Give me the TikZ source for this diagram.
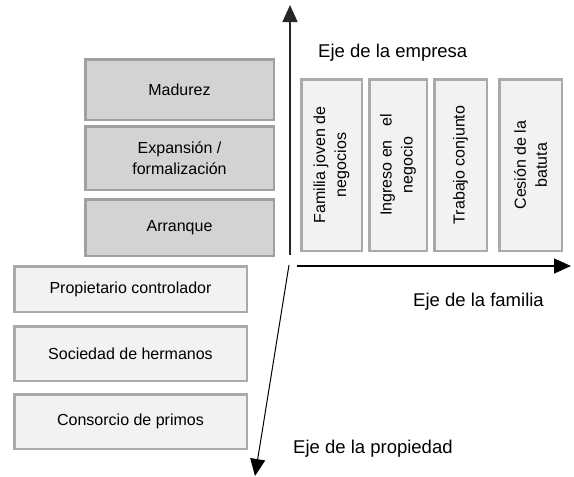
\documentclass[tikz,border=0pt]{standalone}
\usepackage{fontspec}
\setmainfont{Liberation Sans}
\usetikzlibrary{arrows.meta}
\definecolor{darkfill}{RGB}{212,210,210}
\definecolor{darkline}{RGB}{160,160,160}
\definecolor{lightfill}{RGB}{242,242,242}
\definecolor{lightline}{RGB}{170,170,170}
\tikzset{
  darkbox/.style={draw=darkline, fill=darkfill, line width=2.5pt, align=center, inner sep=0pt,
    font=\fontsize{16}{21}\selectfont},
  lightbox/.style={draw=lightline, fill=lightfill, line width=2.5pt, align=center, inner sep=0pt,
    font=\fontsize{16}{21}\selectfont},
  axislabel/.style={anchor=base west, inner sep=0pt, font=\fontsize{18.5}{22}\selectfont},
  axis/.style={line width=1.5pt, -{Triangle[width=15pt,length=17pt]}}
}
\begin{document}
\begin{tikzpicture}[x=1pt,y=-1pt]
\useasboundingbox (0,0) rectangle (574,477);
% left stage boxes (company)
\node[darkbox, minimum width=188.5, minimum height=60.5] (mad) at (179.5,89.5) {Madurez};
\node[darkbox, minimum width=188.5, minimum height=63.5] (exp) at (179.5,158) {Expansión /\\formalización};
\node[darkbox, minimum width=188.5, minimum height=56.5] (arr) at (179.5,227.5) {Arranque};
% ownership boxes
\node[lightbox, minimum width=232.5, minimum height=45.5] (pro) at (130.5,289) {Propietario controlador};
\node[lightbox, minimum width=232.5, minimum height=54.5] (soc) at (130.5,353.5) {Sociedad de hermanos};
\node[lightbox, minimum width=232.5, minimum height=54.5] (con) at (130.5,421.5) {Consorcio de primos};
% family boxes (rotated)
\node[lightbox, rotate=90, minimum width=171.5, minimum height=60.5] (fam) at (331.5,165) {Familia joven de\\negocios};
\node[lightbox, rotate=90, minimum width=171.5, minimum height=57.5] (ing) at (398,165) {Ingreso en \ \ el\\negocio};
\node[lightbox, rotate=90, minimum width=171.5, minimum height=52.5] (tra) at (460.5,165) {Trabajo conjunto};
\node[lightbox, rotate=90, minimum width=171.5, minimum height=62.5] (ces) at (530.5,165) {Cesión de la\\batuta};
% axes
\coordinate (vbot) at (290,255);
\coordinate (vtop) at (290,5);
\coordinate (hl) at (297,266);
\coordinate (hr) at (571,266);
\coordinate (dtop) at (289,265);
\coordinate (dbot) at (255,476);
\draw[axis, draw=black!85] (vbot) -- (vtop);
\draw[axis] (hl) -- (hr);
\draw[line width=1pt, -{Triangle[width=15pt,length=17pt]}] (dtop) -- (dbot);
% axis labels
\node[axislabel] (lemp) at (318,57) {Eje de la empresa};
\node[axislabel] (lfam) at (413,306) {Eje de la familia};
\node[axislabel] (lpro) at (293,453) {Eje de la propiedad};
\end{tikzpicture}
\end{document}
